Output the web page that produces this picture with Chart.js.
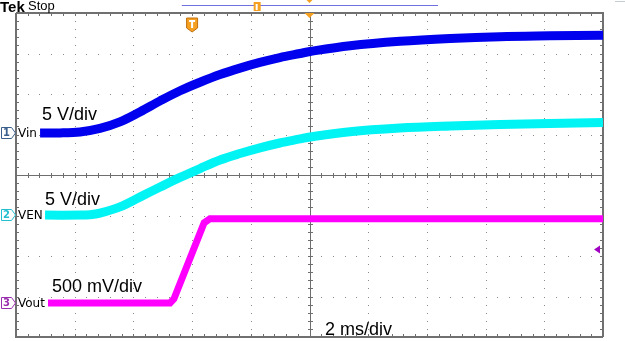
<!DOCTYPE html>
<html>
<head>
<meta charset="utf-8">
<script src="https://cdn.jsdelivr.net/npm/chart.js@4.4.1/dist/chart.umd.min.js"></script>
<style>
  html, body { margin: 0; padding: 0; background: #fff; }
  #scope { display: block; }
</style>
</head>
<body>
<canvas id="scope" width="625" height="341"></canvas>
<script>
// time in ms (2 ms/div, 10 divisions), values in volts
var vinTime = [0.82, 1.5, 2.18, 2.86, 3.54, 4.22, 4.91, 5.59, 6.27, 6.95, 7.63, 8.31, 8.99, 9.68, 10.02, 11.38, 13.08, 14.79, 16.49, 18.19, 20];
var vinVolts = [0, 0, 0.12, 0.56, 1.36, 2.59, 3.95, 5.2, 6.25, 7.2, 8.0, 8.7, 9.3, 9.8, 10.05, 10.75, 11.3, 11.65, 11.88, 11.98, 12.06];

var venTime = [0.99, 2.18, 2.52, 2.86, 3.54, 4.22, 4.91, 5.59, 6.27, 6.95, 7.63, 8.31, 8.99, 9.68, 10.02, 11.38, 13.08, 14.79, 16.49, 18.19, 20];
var venVolts = [0, 0, 0.05, 0.25, 1.02, 2.22, 3.46, 4.65, 5.75, 6.8, 7.6, 8.3, 8.9, 9.4, 9.65, 10.3, 10.74, 10.99, 11.17, 11.3, 11.42];

var voutTime = [1.09, 5.25, 5.38, 6.41, 6.61, 20];
var voutVolts = [0, 0, 0.05, 0.99, 1.04, 1.04];

// channel settings: volts per division, ground position in divisions
var channels = [
    { num: '1', name: 'Vin', scale: 5, pos: 1.04, color: '#0000ee', mark: '#3a5f8c', scaleText: '5 V/div' },
    { num: '2', name: 'VEN', scale: 5, pos: -0.99, color: '#00f4f4', mark: '#22bfd0', scaleText: '5 V/div' },
    { num: '3', name: 'Vout', scale: 0.5, pos: -3.16, color: '#ff00ff', mark: '#9a30b0', scaleText: '500 mV/div' }
];
var timeText = '2 ms/div';

function toDivs(times, volts, ch) {
    return times.map(function (t, i) {
        return { x: t, y: ch.pos + volts[i] / ch.scale };
    });
}

function drawGraticule(chart) {
    var ctx = chart.ctx;
    var xs = chart.scales.x;
    var ys = chart.scales.y;
    var left = xs.getPixelForValue(0), right = xs.getPixelForValue(20);
    var top = ys.getPixelForValue(4), bottom = ys.getPixelForValue(-4);
    var cx = Math.round(xs.getPixelForValue(10));
    var cy = Math.round(ys.getPixelForValue(0));
    var i, j, px, py;

    ctx.save();
    // dotted division lines
    ctx.fillStyle = '#8a8a8a';
    for (i = 1; i < 10; i++) {
        if (i === 5) continue;
        px = Math.round(xs.getPixelForValue(i * 2));
        for (j = 1; j < 40; j++) {
            py = Math.round(ys.getPixelForValue(4 - j * 0.2));
            ctx.fillRect(px, py, 1, 1);
        }
    }
    for (i = 1; i < 8; i++) {
        if (i === 4) continue;
        py = Math.round(ys.getPixelForValue(4 - i));
        for (j = 1; j < 50; j++) {
            px = Math.round(xs.getPixelForValue(j * 0.4));
            ctx.fillRect(px, py, 1, 1);
        }
    }

    // center axes with minor ticks
    ctx.strokeStyle = '#6e6e6e';
    ctx.lineWidth = 1;
    ctx.beginPath();
    ctx.moveTo(left, cy + 0.5); ctx.lineTo(right, cy + 0.5);
    ctx.moveTo(cx + 0.5, top); ctx.lineTo(cx + 0.5, bottom);
    for (j = 1; j < 50; j++) {
        px = Math.round(xs.getPixelForValue(j * 0.4)) + 0.5;
        ctx.moveTo(px, cy - 2); ctx.lineTo(px, cy + 3);
        ctx.moveTo(px, top); ctx.lineTo(px, top + 3);
        ctx.moveTo(px, bottom); ctx.lineTo(px, bottom - 3);
    }
    for (j = 1; j < 40; j++) {
        py = Math.round(ys.getPixelForValue(4 - j * 0.2)) + 0.5;
        ctx.moveTo(cx - 2, py); ctx.lineTo(cx + 3, py);
        ctx.moveTo(left, py); ctx.lineTo(left + 3, py);
        ctx.moveTo(right, py); ctx.lineTo(right - 3, py);
    }
    ctx.stroke();

    // outer frame
    ctx.strokeStyle = '#707070';
    ctx.lineWidth = 2;
    ctx.beginPath();
    ctx.moveTo(left, top); ctx.lineTo(right, top); ctx.lineTo(right, bottom);
    ctx.moveTo(left, top); ctx.lineTo(left, bottom); ctx.lineTo(right, bottom);
    ctx.stroke();
    ctx.restore();
}

function drawTriggerT(ctx, x, y, w, h) {
    ctx.fillStyle = '#f5a020';
    ctx.strokeStyle = '#c07010';
    ctx.lineWidth = 1;
    ctx.beginPath();
    ctx.moveTo(x - w / 2, y);
    ctx.lineTo(x + w / 2, y);
    ctx.lineTo(x + w / 2, y + h - 4);
    ctx.lineTo(x, y + h);
    ctx.lineTo(x - w / 2, y + h - 4);
    ctx.closePath();
    ctx.fill();
    ctx.stroke();
    ctx.fillStyle = '#fff';
    ctx.fillRect(x - 3, y + 2, 6, 2);
    ctx.fillRect(x - 1, y + 2, 2, h - 6);
}

function drawOverlay(chart) {
    var ctx = chart.ctx;
    var xs = chart.scales.x;
    var ys = chart.scales.y;
    var left = xs.getPixelForValue(0);
    var top = ys.getPixelForValue(4);
    var cx = xs.getPixelForValue(10);

    ctx.save();
    // header
    ctx.fillStyle = '#000';
    ctx.textBaseline = 'alphabetic';
    ctx.font = 'bold 15px "Liberation Sans"';
    ctx.fillText('Tek', 0, 12);
    ctx.font = '13px "Liberation Sans"';
    ctx.fillText('Stop', 28, 10);

    // record bar at the top
    ctx.strokeStyle = '#6f6fe0';
    ctx.lineWidth = 1;
    ctx.beginPath();
    ctx.moveTo(xs.getPixelForValue(5.65), 5.5);
    ctx.lineTo(xs.getPixelForValue(14.38), 5.5);
    ctx.stroke();
    ctx.fillStyle = '#f5a020';
    ctx.fillRect(xs.getPixelForValue(8.2) - 3, 2, 7, 9);
    ctx.fillStyle = '#fff';
    ctx.fillRect(xs.getPixelForValue(8.2) - 1, 4, 2, 6);
    ctx.fillStyle = '#f5a020';
    ctx.beginPath();
    ctx.moveTo(cx - 3, 0); ctx.lineTo(cx + 3, 0); ctx.lineTo(cx, 3);
    ctx.closePath(); ctx.fill();

    // expansion point and trigger position
    ctx.beginPath();
    ctx.moveTo(cx - 5, top); ctx.lineTo(cx + 5, top); ctx.lineTo(cx, top + 5);
    ctx.closePath(); ctx.fill();
    drawTriggerT(ctx, xs.getPixelForValue(6.0), top + 5, 11, 14);

    // trigger level arrow
    var ty = ys.getPixelForValue(-1.84);
    var tx = xs.getPixelForValue(20) - 5;
    ctx.fillStyle = '#a000c0';
    ctx.beginPath();
    ctx.moveTo(tx - 4, ty); ctx.lineTo(tx + 2, ty - 4); ctx.lineTo(tx + 2, ty + 4);
    ctx.closePath(); ctx.fill();

    ctx.strokeStyle = '#c4ccd4';
    ctx.beginPath();
    ctx.moveTo(615, 1.5); ctx.lineTo(625, 1.5);
    ctx.stroke();

    // channel markers and names
    channels.forEach(function (ch) {
        var y = Math.round(ys.getPixelForValue(ch.pos));
        ctx.strokeStyle = ch.mark;
        ctx.lineWidth = 1;
        ctx.fillStyle = '#fff';
        ctx.beginPath();
        ctx.moveTo(1.5, y - 5.5);
        ctx.lineTo(11.5, y - 5.5);
        ctx.lineTo(15.5, y);
        ctx.lineTo(11.5, y + 5.5);
        ctx.lineTo(1.5, y + 5.5);
        ctx.closePath();
        ctx.fill();
        ctx.stroke();
        ctx.fillStyle = ch.mark;
        ctx.font = 'bold 10px "DejaVu Sans"';
        ctx.textAlign = 'center';
        ctx.textBaseline = 'middle';
        ctx.fillText(ch.num, 6.5, y + 0.5);
        ctx.textAlign = 'left';
        ctx.fillStyle = '#000';
        ctx.font = '12px "DejaVu Sans"';
        ctx.fillText(ch.name, left + 2, y + 1);
    });

    // scale annotations
    ctx.fillStyle = '#000';
    ctx.font = '18px "Liberation Sans"';
    ctx.textBaseline = 'alphabetic';
    ctx.fillText(channels[0].scaleText, 42, 120);
    ctx.fillText(channels[1].scaleText, 45, 205);
    ctx.fillText(channels[2].scaleText, 52, 292);
    ctx.fillText(timeText, 325, 335);
    ctx.restore();
}

var scopePlugin = {
    id: 'scopeScreen',
    beforeDatasetsDraw: drawGraticule,
    afterDatasetsDraw: drawOverlay
};

var scopeChart = new Chart(document.getElementById('scope').getContext('2d'), {
    type: 'line',
    data: {
        datasets: [
            {
                label: channels[0].name,
                data: toDivs(vinTime, vinVolts, channels[0]),
                borderColor: channels[0].color,
                borderWidth: 9,
                tension: 0.35,
            },
            {
                label: channels[1].name,
                data: toDivs(venTime, venVolts, channels[1]),
                borderColor: channels[1].color,
                borderWidth: 9,
                tension: 0.35,
            },
            {
                label: channels[2].name,
                data: toDivs(voutTime, voutVolts, channels[2]),
                borderColor: channels[2].color,
                borderWidth: 7,
                tension: 0,
            }
        ],
    },
    options: {
        responsive: false,
        animation: false,
        devicePixelRatio: 1,
        layout: { padding: { left: 16, top: 13, right: 22, bottom: 4 } },
        elements: { point: { radius: 0 } },
        plugins: { legend: { display: false }, tooltip: { enabled: false } },
        scales: {
            x: { type: 'linear', min: 0, max: 20, display: false },
            y: { type: 'linear', min: -4, max: 4, display: false },
        },
    },
    plugins: [scopePlugin],
});
</script>
</body>
</html>
